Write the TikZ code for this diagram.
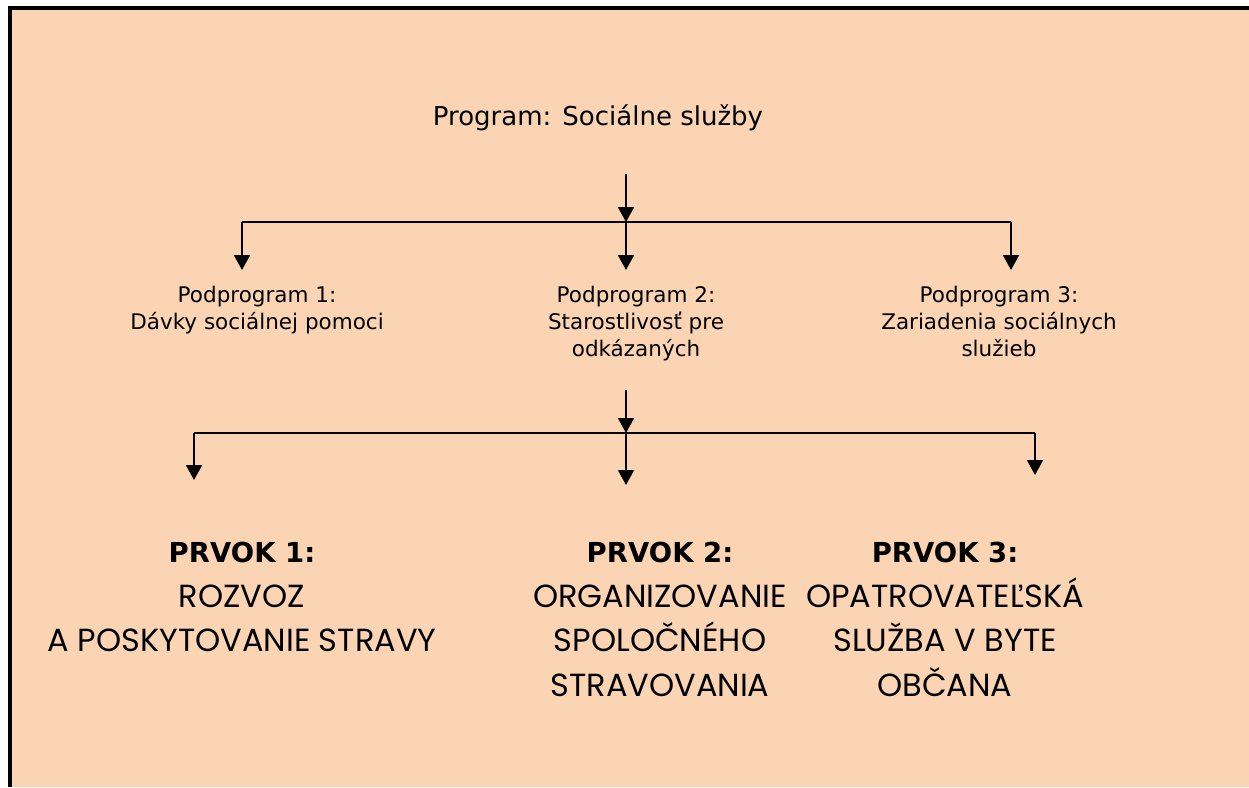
\documentclass[tikz,border=0pt]{standalone}
\usepackage{fontspec}
\usetikzlibrary{arrows.meta}
\newfontfamily\verd{DejaVu Sans}
\newfontfamily\goth{Poppins}
\definecolor{peach}{HTML}{FBD4B4}
\tikzset{
  conn/.style={line width=2pt, draw=black},
  arr/.style={conn, -{Triangle[width=16pt,length=15pt]}},
  toptext/.style={font=\verd\fontsize{26}{30}\selectfont, inner sep=0pt},
  subtext/.style={font=\verd\fontsize{21.5}{27}\selectfont, align=center, inner sep=0pt, anchor=north},
  elemtext/.style={font=\goth\fontsize{32}{44.5}\selectfont, align=center, inner sep=0pt, anchor=north},
}
\newcommand{\prv}[1]{{\verd\bfseries\fontsize{27.5}{44.5}\selectfont #1}}
\begin{document}
\begin{tikzpicture}[x=1pt,y=-1pt]
\useasboundingbox (0,0) rectangle (1249,787);
\fill[white] (0,0) rectangle (1249,787);
\fill[peach] (10,8) rectangle (1249,787);
\draw[line width=4pt] (10,787) -- (10,8) -- (1249,8);

\node[toptext] (prog) at (598,118) {Program: Sociálne služby};

\node[subtext] (sub1) at (257,286) {Podprogram 1:\\Dávky sociálnej pomoci};
\node[subtext] (sub2) at (636,286) {Podprogram 2:\\Starostlivosť pre\\odkázaných};
\node[subtext] (sub3) at (999,286) {Podprogram 3:\\Zariadenia sociálnych\\služieb};

\node[elemtext] (el1) at (242,542) {\prv{PRVOK 1:}\\ROZVOZ\\A POSKYTOVANIE STRAVY};
\node[elemtext] (el2) at (660,542) {\prv{PRVOK 2:}\\ORGANIZOVANIE\\SPOLOČNÉHO\\STRAVOVANIA};
\node[elemtext] (el3) at (945,542) {\prv{PRVOK 3:}\\OPATROVATEĽSKÁ\\SLUŽBA V BYTE\\OBČANA};

% level 1 connectors
\coordinate (s1) at (626,174);
\coordinate (j1) at (626,222);
\coordinate (l1) at (242,222);
\coordinate (r1) at (1011,222);
\coordinate (t11) at (242,270);
\coordinate (t12) at (626,270);
\coordinate (t13) at (1011,270);
\draw[arr] (s1) -- (j1);
\draw[conn] (l1) -- (r1);
\draw[arr] (j1) -- (t12);
\draw[arr] (l1) -- (t11);
\draw[arr] (r1) -- (t13);

% level 2 connectors
\coordinate (s2) at (626,390);
\coordinate (j2) at (626,433);
\coordinate (l2) at (194,433);
\coordinate (r2) at (1035,433);
\coordinate (t21) at (194,480);
\coordinate (t22) at (626,485);
\coordinate (t23) at (1035,475);
\draw[arr] (s2) -- (j2);
\draw[conn] (l2) -- (r2);
\draw[arr] (j2) -- (t22);
\draw[arr] (l2) -- (t21);
\draw[arr] (r2) -- (t23);
\end{tikzpicture}
\end{document}
